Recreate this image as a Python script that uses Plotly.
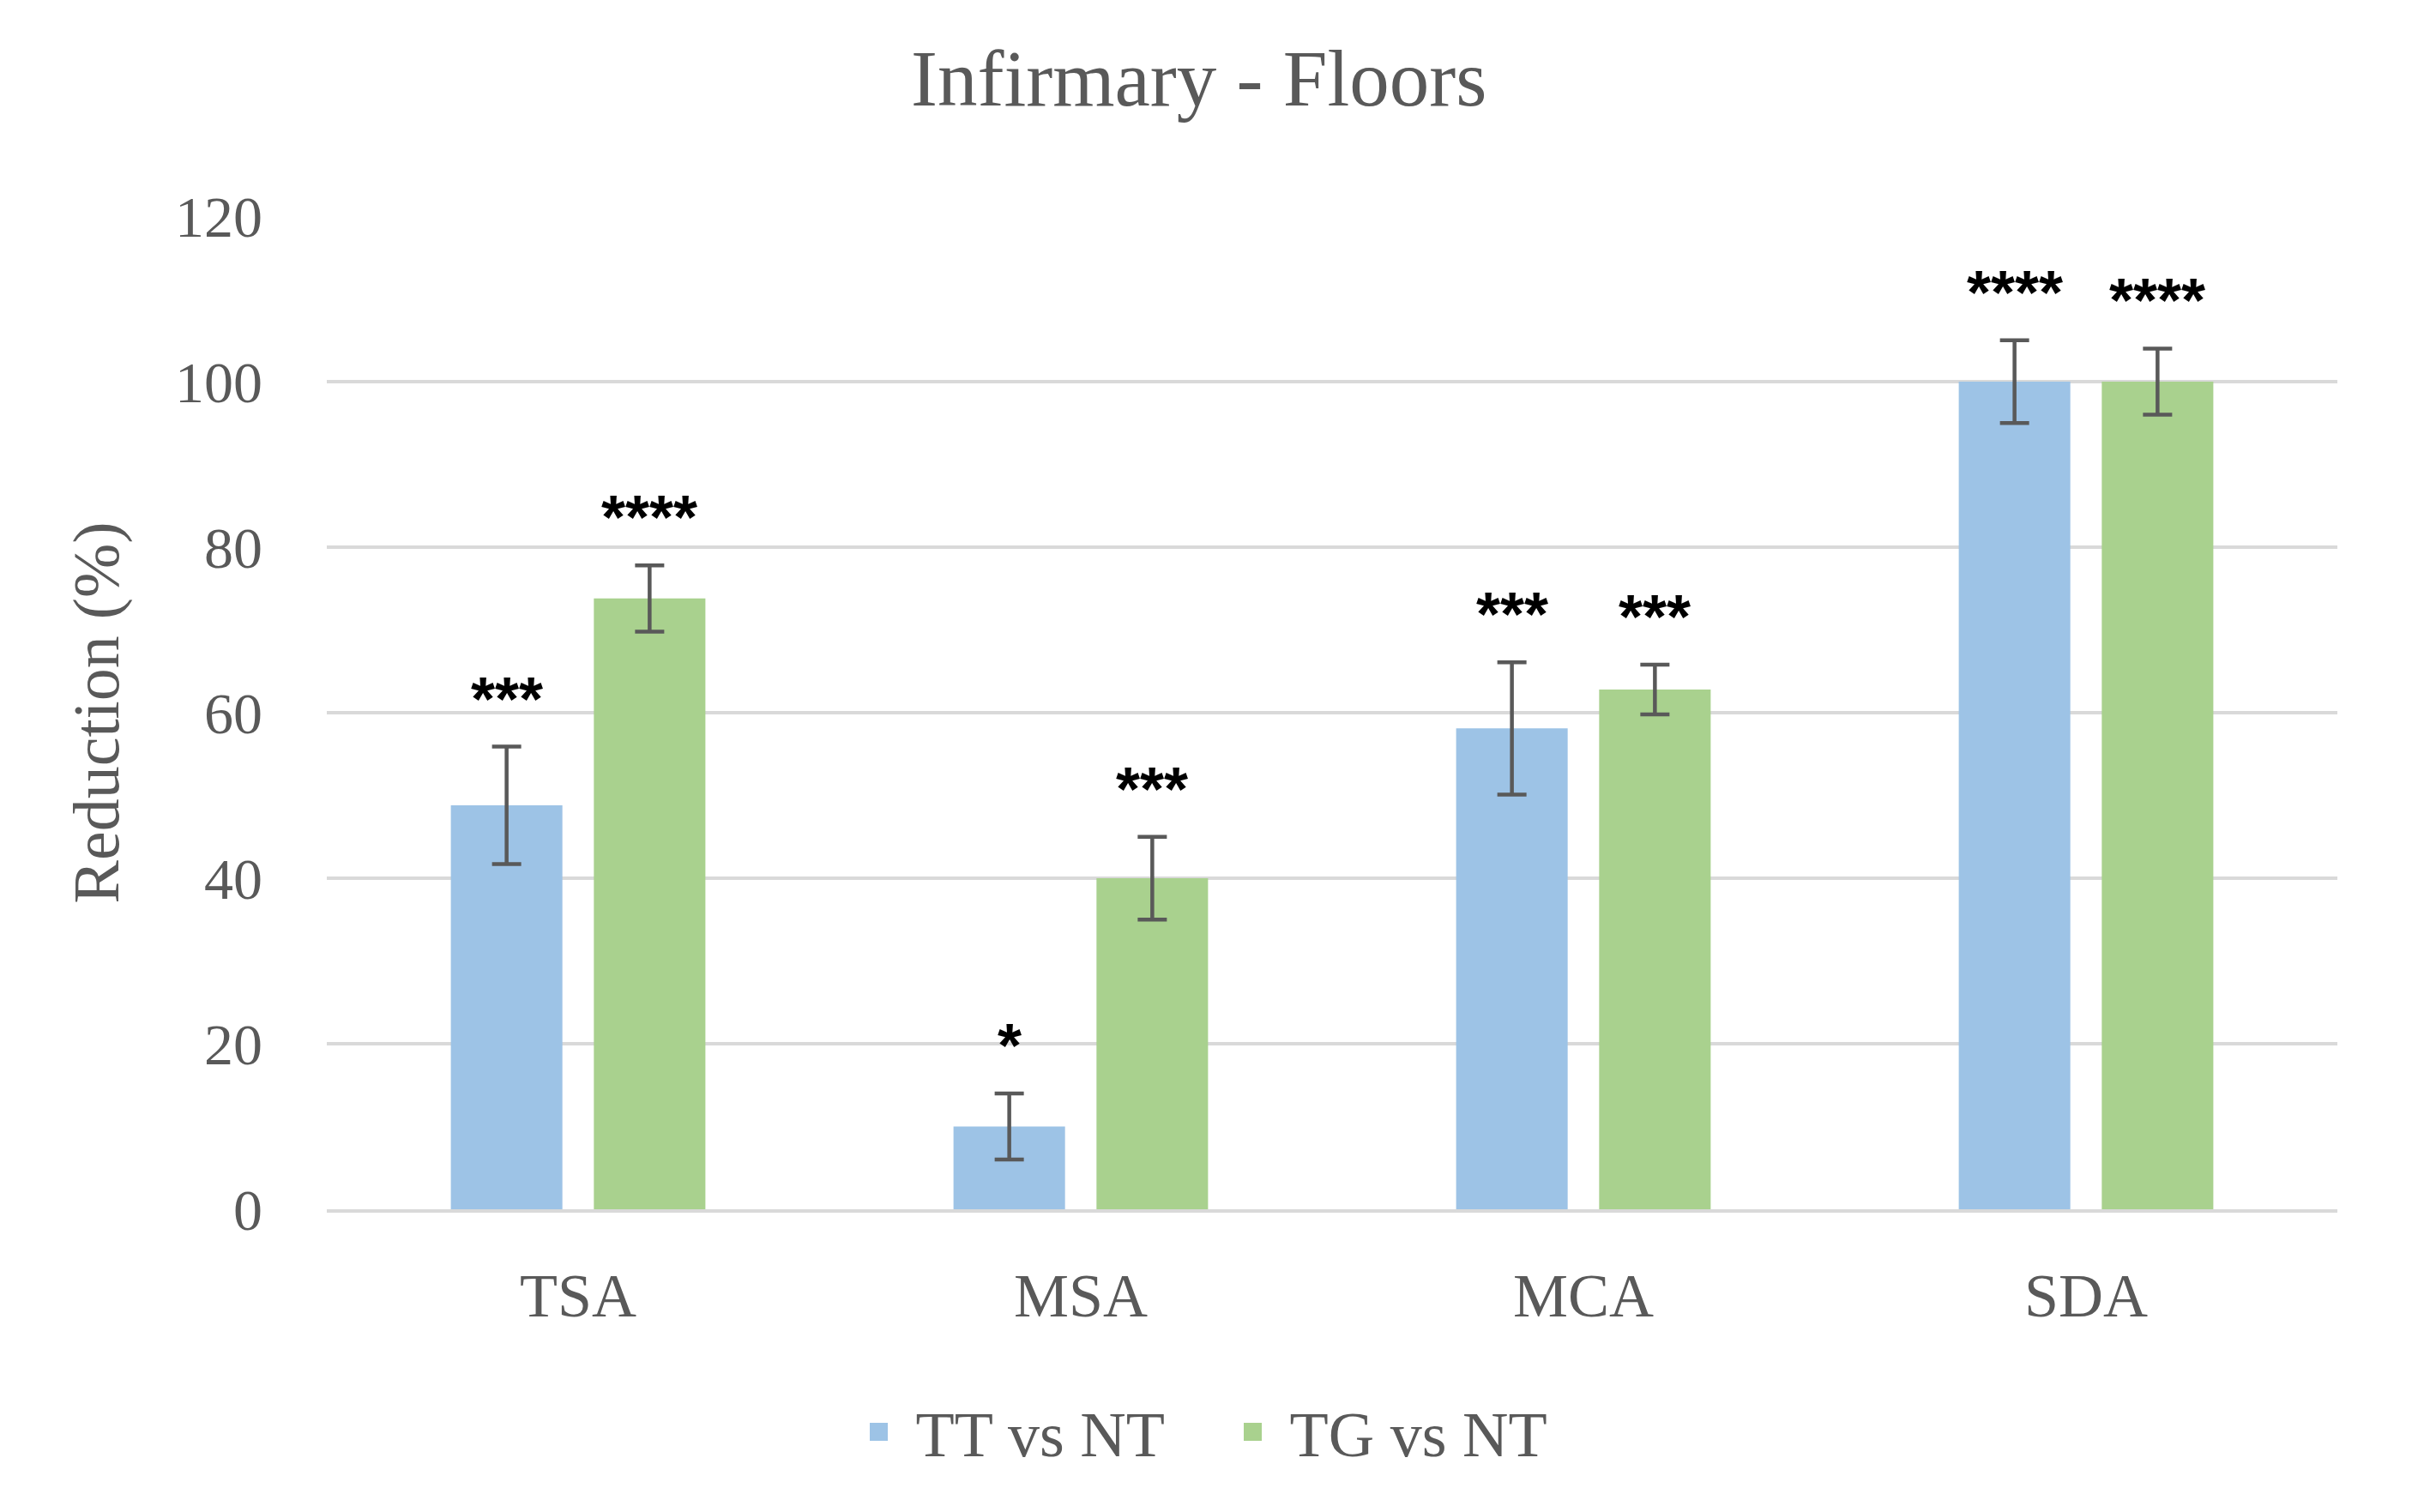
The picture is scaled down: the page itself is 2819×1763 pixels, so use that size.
import plotly.graph_objects as go

categories = ["TSA", "MSA", "MCA", "SDA"]
series_names = ["TT vs NT", "TG vs NT"]
tt_values = [48.8, 10.0, 58.1, 100.0]
tt_errors = [7.1, 4.0, 8.0, 5.0]
tt_sig = ["***", "*", "***", "****"]
tg_values = [73.8, 40.0, 62.8, 100.0]
tg_errors = [4.0, 5.0, 3.0, 4.0]
tg_sig = ["****", "***", "***", "****"]
y_ticks = [0, 20, 40, 60, 80, 100, 120]

W, H = 2819, 1763
ML, MR, MT, MB = 373, 102, 244, 361
BARGAP = 0.431
BARGROUPGAP = 0.22
TEXT = "#595959"
SERIF = "Liberation Serif"

fig = go.Figure()
colors = ["#9DC3E6", "#A9D18E"]
for name, vals, errs, col in [(series_names[0], tt_values, tt_errors, colors[0]),
                              (series_names[1], tg_values, tg_errors, colors[1])]:
    fig.add_trace(go.Bar(
        x=categories, y=vals, name=name, legendgroup=name, showlegend=False,
        marker=dict(color=col, line=dict(width=0)),
        error_y=dict(type="data", array=errs, visible=True,
                     color="#595959", thickness=4.5, width=17),
    ))

# legend keys (square swatches) for the two series
for name, col in zip(series_names, colors):
    fig.add_trace(go.Scatter(
        x=[categories[0]], y=[None], name=name, legendgroup=name,
        mode="markers", hoverinfo="skip",
        marker=dict(symbol="square", size=16, color=col,
                    line=dict(color=col, width=5)),
    ))

# significance labels above the error bars
plot_w = W - ML - MR
slot = (1 - BARGAP) / 2
shift_px = slot / 2 * plot_w / len(categories)
for sigs, vals, errs, sgn in [(tt_sig, tt_values, tt_errors, -1),
                              (tg_sig, tg_values, tg_errors, 1)]:
    for c, s, v, e in zip(categories, sigs, vals, errs):
        fig.add_annotation(
            x=c, y=v + e, text=s, showarrow=False,
            xshift=sgn * shift_px, yshift=14, yanchor="bottom",
            font=dict(family="Liberation Sans", size=72, color="#000000",
                      weight="bold"),
        )

fig.update_layout(
    width=W, height=H,
    margin=dict(l=ML, r=MR, t=MT, b=MB),
    paper_bgcolor="white", plot_bgcolor="white",
    barmode="group", bargap=BARGAP, bargroupgap=BARGROUPGAP,
    title=dict(text="Infirmary - Floors", x=0.493, xanchor="center",
               y=1 - 82 / H, yanchor="middle",
               font=dict(family=SERIF, size=93, color=TEXT)),
    font=dict(family=SERIF, color=TEXT),
    legend=dict(orientation="h", xref="container", x=0.5, xanchor="center",
                yref="container", y=1 - 1662 / H, yanchor="middle",
                font=dict(family=SERIF, size=74, color=TEXT),
                itemwidth=76, tracegroupgap=0, entrywidth=345),
    showlegend=True,
)
fig.update_yaxes(
    range=[0, 120], tickvals=y_ticks, ticktext=[str(t) for t in y_ticks],
    showgrid=True, gridcolor="#D9D9D9", gridwidth=3.5,
    zeroline=False, showline=False,
    ticks="", ticklabelstandoff=74,
    tickfont=dict(family=SERIF, size=68, color=TEXT),
    title=dict(text="Reduction (%)", standoff=40,
               font=dict(family=SERIF, size=76, color=TEXT)),
)
fig.update_xaxes(
    showline=True, linecolor="#D9D9D9", linewidth=3.5,
    showgrid=False, ticks="", ticklabelstandoff=35,
    tickfont=dict(family=SERIF, size=72, color=TEXT),
)

fig.write_html("out.html")
